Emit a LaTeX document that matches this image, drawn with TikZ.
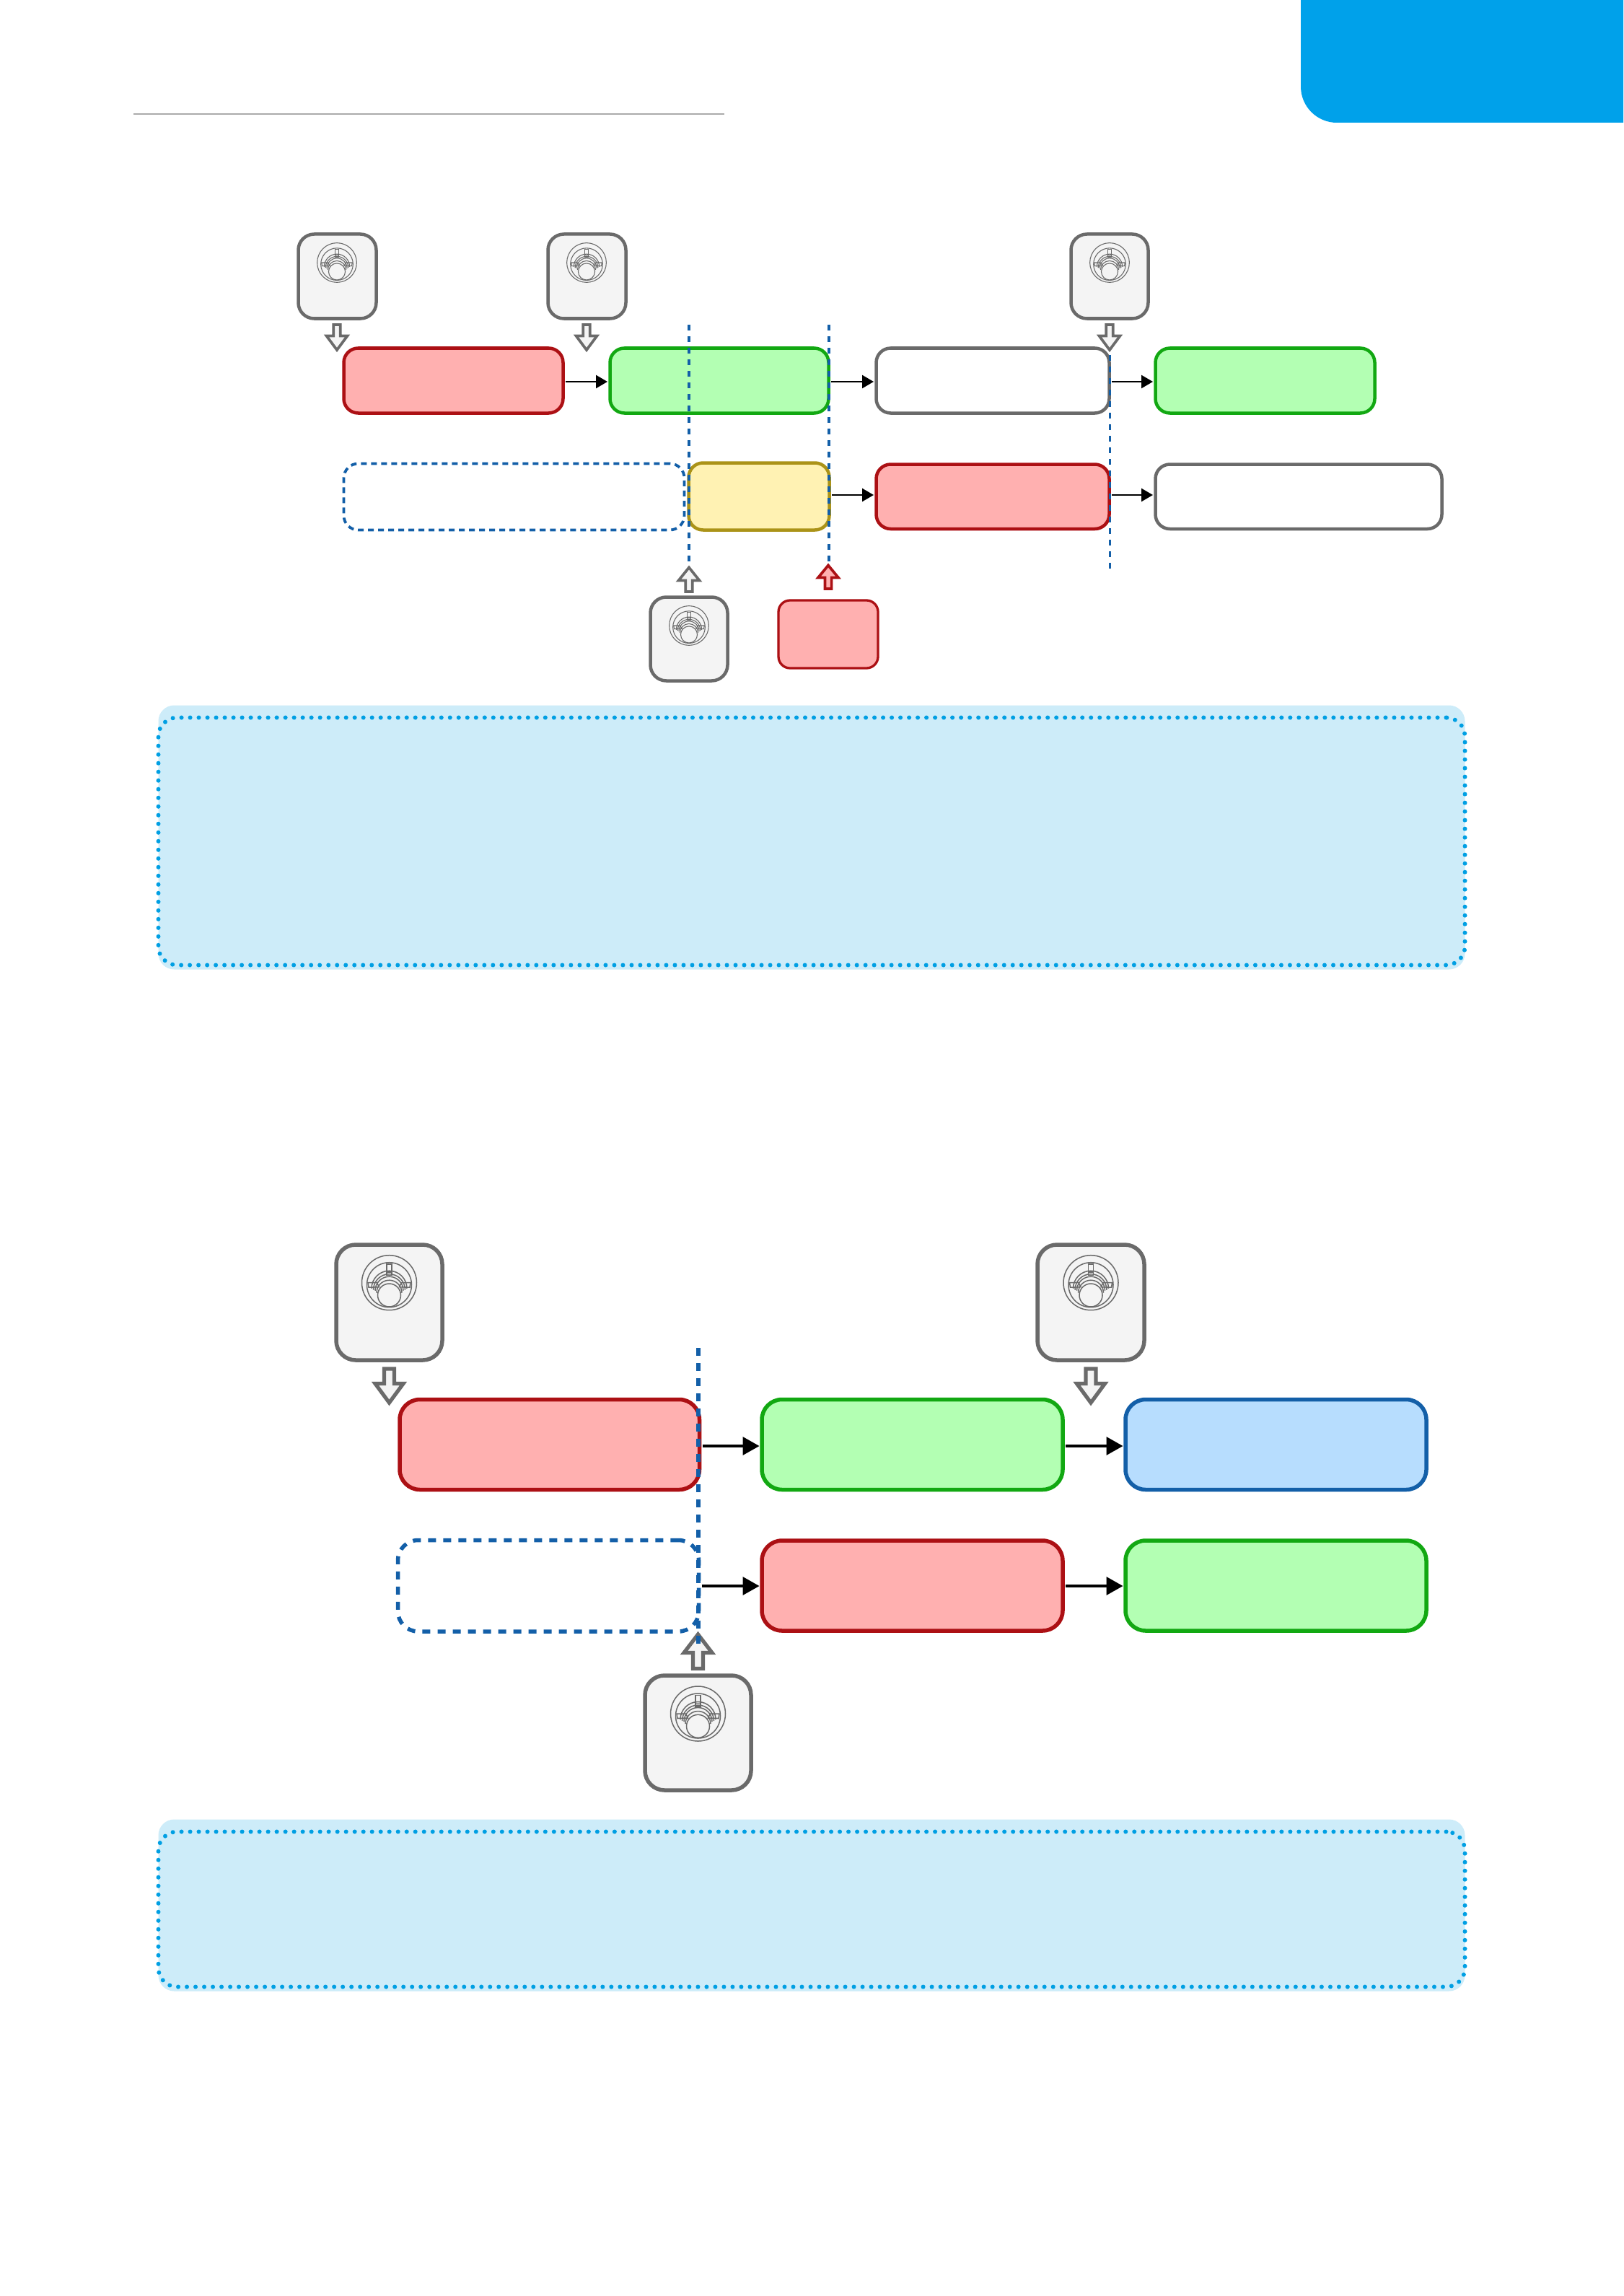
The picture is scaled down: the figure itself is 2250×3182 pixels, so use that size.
\documentclass[tikz,border=0pt]{standalone}
\usetikzlibrary{arrows.meta}
\definecolor{redfill}{HTML}{FFB0B0}
\definecolor{redline}{HTML}{AC1014}
\definecolor{greenfill}{HTML}{B3FFB3}
\definecolor{greenline}{HTML}{12A812}
\definecolor{greyline}{HTML}{6A6A6A}
\definecolor{knobfill}{HTML}{F4F4F4}
\definecolor{yellowfill}{HTML}{FFF2B3}
\definecolor{yellowline}{HTML}{AB9318}
\definecolor{bluefill}{HTML}{B7DDFE}
\definecolor{blueline}{HTML}{135FA8}
\definecolor{tabblue}{HTML}{00A1EA}
\definecolor{infofill}{HTML}{CDECF9}
\definecolor{infodots}{HTML}{009FE3}
\definecolor{rulegrey}{HTML}{ABABAB}
\tikzset{
  rbase/.style={rectangle,draw,inner sep=0pt,outer sep=0pt},
  small/.style={rbase,line width=0.045cm,rounded corners=0.2cm},
  big/.style={rbase,line width=0.055cm,rounded corners=0.28cm},
  redS/.style={small,fill=redfill,draw=redline},
  greenS/.style={small,fill=greenfill,draw=greenline},
  whiteS/.style={small,fill=white,draw=greyline},
  yellowS/.style={small,fill=yellowfill,draw=yellowline},
  dashS/.style={small,draw=blueline,line width=0.038cm,dash pattern=on 0.08cm off 0.06cm},
  tinyred/.style={small,fill=redfill,draw=redline,line width=0.033cm,rounded corners=0.16cm},
  knobS/.style={small,fill=knobfill,draw=greyline,rounded corners=0.22cm},
  redB/.style={big,fill=redfill,draw=redline},
  greenB/.style={big,fill=greenfill,draw=greenline},
  blueB/.style={big,fill=bluefill,draw=blueline},
  dashB/.style={big,draw=blueline,dash pattern=on 0.11cm off 0.1cm},
  knobB/.style={big,fill=knobfill,draw=greyline,rounded corners=0.27cm},
  infoback/.style={rectangle,inner sep=0pt,outer sep=0pt,fill=infofill,rounded corners=0.22cm},
  infodot/.style={rectangle,inner sep=0pt,outer sep=0pt,draw=infodots,line width=0.06cm,line cap=round,dash pattern=on 0pt off 0.12cm,rounded corners=0.26cm},
  connS/.style={draw=black,line width=0.025cm,-{Triangle[length=0.16cm,width=0.18cm]},shorten <=0.035cm,shorten >=0.035cm},
  connB/.style={draw=black,line width=0.032cm,-{Triangle[length=0.23cm,width=0.25cm]},shorten <=0.04cm,shorten >=0.035cm},
  cutS/.style={draw=blueline,line width=0.036cm,dash pattern=on 0.08cm off 0.08cm},
  cutT/.style={draw=blueline,line width=0.03cm,dash pattern=on 0.08cm off 0.08cm},
  cutB/.style={draw=blueline,line width=0.055cm,dash pattern=on 0.105cm off 0.105cm},
  barrowS/.style={draw=greyline,fill=knobfill,line width=0.037cm,miter limit=10},
  barrowR/.style={draw=redline,fill=redfill,line width=0.037cm,miter limit=10},
  barrowB/.style={draw=greyline,fill=knobfill,line width=0.052cm,miter limit=10},
}
% #1 style, #2 name, #3..#6 x1 y1 x2 y2 in reference pixels (stroke centre, widened half a pixel per side)
\newcommand\rbox[6]{\node[#1,minimum width={(#5-#3+1)*0.01cm},minimum height={(#6-#4+1)*0.01cm}] (#2) at ({(#3+#5)/2},{(#4+#6)/2}) {};}
% #1 style, #2 cx, #3 shaft end y, #4 head base y, #5 tip y, #6 half shaft, #7 half head
\newcommand\blockarrow[7]{\draw[#1] ({#2-#6},#3) -- ({#2+#6},#3) -- ({#2+#6},#4) -- ({#2+#7},#4) -- (#2,#5) -- ({#2-#7},#4) -- ({#2-#6},#4) -- cycle;}
% #1 cx, #2 cy, #3 scale
\newcommand\knobicon[3]{%
  \begin{scope}[shift={(#1,#2)},scale=#3,draw=greyline,line width={#3*0.015cm},fill=knobfill]
    \draw (0,0) circle[radius=38];
    \draw (0,3) circle[radius=31];
    \draw[fill=knobfill] (-29.5,0) -- (-17,0) -- (-14,6) -- (-28.5,6.5) -- cycle;
    \draw[fill=knobfill] (29.5,0) -- (17,0) -- (14,6) -- (28.5,6.5) -- cycle;
    \draw[fill=knobfill] (-3.6,-25.5) rectangle (3.6,-10);
    \draw (-3.6,-14.5) -- (3.6,-14.5);
    \draw (-24.5,8) arc[start angle=180,end angle=360,radius=24.5];
    \draw (-22,10) arc[start angle=180,end angle=360,radius=22];
    \draw (-19.5,11) arc[start angle=180,end angle=360,radius=19.5];
    \draw (-17.5,14) arc[start angle=180,end angle=360,radius=17.5];
    \draw[fill=knobfill] (0,17.3) circle[radius=16];
  \end{scope}}
\begin{document}
\begin{tikzpicture}[x=0.01cm,y=-0.01cm]
\useasboundingbox (0,0) rectangle (2250,3182);
\fill[white] (0,0) rectangle (2250,3182);
% header
\fill[tabblue] (1803,0) -- (1803,120) arc[start angle=180,end angle=90,radius=50] -- (2250,170) -- (2250,0) -- cycle;
\coordinate (ruleL) at (185,158);
\coordinate (ruleR) at (1004,158);
\draw[rulegrey,line width=0.022cm] (ruleL) -- (ruleR);

% ---- upper diagram
\rbox{knobS}{k1}{414}{325}{521}{441}
\rbox{knobS}{k2}{760}{325}{867}{441}
\rbox{knobS}{k3}{1485}{325}{1591}{441}
\knobicon{467}{364}{0.72}
\knobicon{813}{364}{0.72}
\knobicon{1538}{364}{0.72}
\rbox{redS}{a1}{477}{483}{780}{572}
\rbox{greenS}{a2}{846}{483}{1148}{572}
\rbox{whiteS}{a3}{1215}{483}{1537}{572}
\rbox{greenS}{a4}{1602}{483}{1905}{572}
\rbox{dashS}{b1}{477}{643}{948}{734}
\rbox{yellowS}{b2}{955}{642}{1149}{734}
\rbox{redS}{b3}{1215}{644}{1537}{732.5}
\rbox{whiteS}{b4}{1602}{644}{1998}{732.5}
\draw[connS] (a1.east |- 0,529) -- (a2.west |- 0,529);
\draw[connS] (a2.east |- 0,529) -- (a3.west |- 0,529);
\draw[connS] (a3.east |- 0,529) -- (a4.west |- 0,529);
\draw[connS] (b2.east |- 0,686) -- (b3.west |- 0,686);
\draw[connS] (b3.east |- 0,686) -- (b4.west |- 0,686);
\rbox{knobS}{k4}{902}{828}{1008}{943}
\knobicon{955}{867}{0.72}
\rbox{tinyred}{t1}{1079.5}{832.5}{1216.5}{925.5}
\blockarrow{barrowS}{467}{450}{465.5}{485}{4.7}{14.5}
\blockarrow{barrowS}{813}{450}{465.5}{485}{4.7}{14.5}
\blockarrow{barrowS}{1538}{450}{465.5}{485}{4.7}{14.5}
\blockarrow{barrowS}{955}{820}{804.5}{786.5}{4.7}{14.5}
\blockarrow{barrowR}{1148}{816}{800.5}{783.5}{4.6}{14}
\coordinate (c1t) at (955,450); \coordinate (c1b) at (955,778);
\coordinate (c2t) at (1149,450); \coordinate (c2b) at (1149,780);
\coordinate (c3t) at (1538,492); \coordinate (c3b) at (1538,790);
\draw[cutS] (c1t) -- (c1b);
\draw[cutS] (c2t) -- (c2b);
\draw[cutT] (c3t) -- (c3b);
% note 1
\rbox{infoback}{n1}{220}{978}{2030}{1343}
\rbox{infodot}{n1d}{220}{995}{2030}{1337}

% ---- lower diagram
\rbox{knobB}{k5}{466.5}{1725.5}{612.5}{1884.5}
\rbox{knobB}{k6}{1438.5}{1725.5}{1585.5}{1884.5}
\knobicon{539.5}{1777.7}{1}
\knobicon{1512}{1777.7}{1}
\rbox{redB}{c1}{554.5}{1940}{969}{2064}
\rbox{greenB}{c2}{1056.5}{1940}{1472.5}{2064}
\rbox{blueB}{c3}{1560.5}{1940}{1976.5}{2064}
\rbox{dashB}{d1}{552}{2135}{968}{2260.5}
\rbox{redB}{d2}{1056.5}{2135.5}{1472.5}{2259.5}
\rbox{greenB}{d3}{1560.5}{2135.5}{1976.5}{2259.5}
\draw[connB] (c1.east |- 0,2004) -- (c2.west |- 0,2004);
\draw[connB] (c2.east |- 0,2004) -- (c3.west |- 0,2004);
\draw[connB] (d1.east |- 0,2198) -- (d2.west |- 0,2198);
\draw[connB] (d2.east |- 0,2198) -- (d3.west |- 0,2198);
\rbox{knobB}{k7}{894.5}{2322.5}{1040.5}{2480.5}
\knobicon{967.5}{2375}{1}
\blockarrow{barrowB}{539.5}{1897}{1917.5}{1944}{7}{19.5}
\blockarrow{barrowB}{1512}{1897}{1917.5}{1944}{7}{19.5}
\blockarrow{barrowB}{967.5}{2312.5}{2290.5}{2265}{7}{19.5}
\coordinate (c4t) at (968,1868); \coordinate (c4b) at (968,2280);
\draw[cutB] (c4t) -- (c4b);
% note 2
\rbox{infoback}{n2}{220}{2522}{2030}{2759}
\rbox{infodot}{n2d}{220}{2539}{2030}{2753}
\end{tikzpicture}
\end{document}
